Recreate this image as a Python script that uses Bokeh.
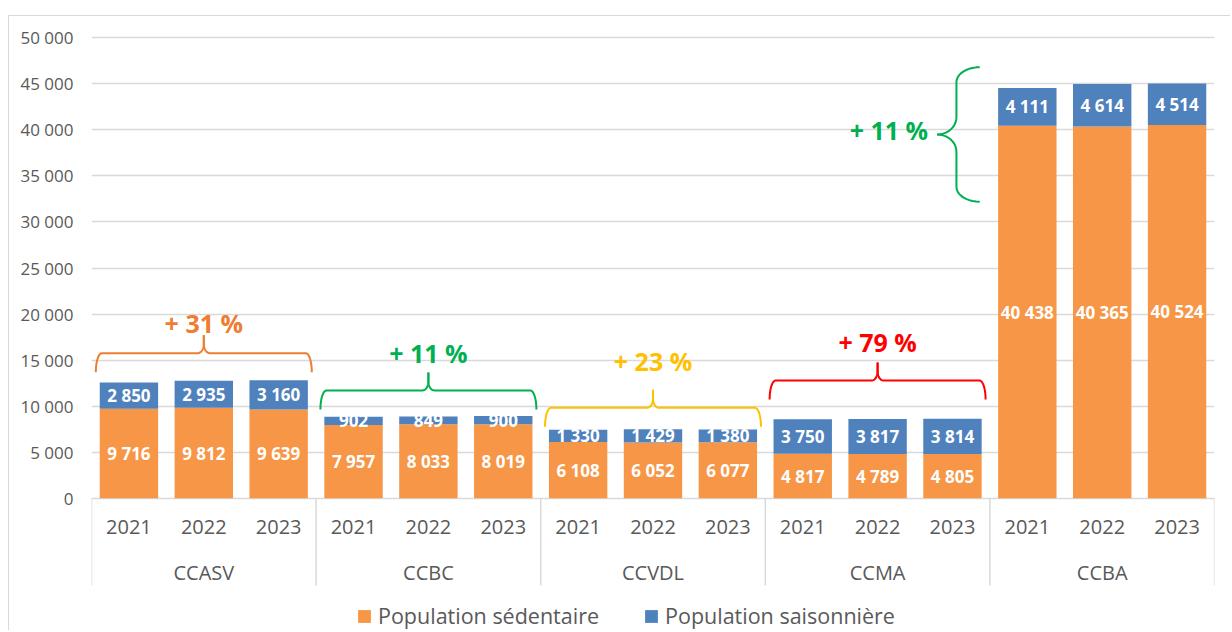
import math
from bokeh.plotting import figure
from bokeh.models import (ColumnDataSource, FactorRange, Range1d, FixedTicker,
                          CustomJSTickFormatter, Legend, LegendItem)
from bokeh.core.properties import value
from bokeh.embed import file_html
from bokeh.resources import INLINE

# ---------------- data ----------------
groups = ["CCASV", "CCBC", "CCVDL", "CCMA", "CCBA"]
years = ["2021", "2022", "2023"]
sedentaire = [9716, 9812, 9639,
              7957, 8033, 8019,
              6108, 6052, 6077,
              4817, 4789, 4805,
              40438, 40365, 40524]
saisonniere = [2850, 2935, 3160,
               902, 849, 900,
               1330, 1429, 1380,
               3750, 3817, 3814,
               4111, 4614, 4514]
series_names = ["Population sédentaire", "Population saisonnière"]
growth_labels = ["+ 31 %", "+ 11 %", "+ 23 %", "+ 79 %", "+ 11 %"]
y_ticks = [0, 5000, 10000, 15000, 20000, 25000, 30000, 35000, 40000, 45000, 50000]

# ---------------- annotation placement (data units) ----------------
brace_line_y = [15750, 11700, 9820, 12780]          # horizontal braces (first 4 groups)
growth_text_y = [19080, 15820, 14950, 17000, 40040]
ccba_brace_tip_y = 39500

# ---------------- styles ----------------
C_SED = "#F79646"
C_SAI = "#4F81BD"
growth_colors = ["#ED7D31", "#00B050", "#FFC000", "#FF0000", "#00B050"]
TXT = "#595959"
GRID = "#d9d9d9"
FONT = "Open Sans"

PX_X = 74.87      # pixels per factor unit
PX_Y = 0.009208   # pixels per data unit

factors = [(g, y) for g in groups for y in years]

def fmt(v):
    return f"{v:,}".replace(",", " ")

src = ColumnDataSource(dict(
    x=factors,
    sed=sedentaire,
    sai=saisonniere,
    sed_mid=[s / 2 for s in sedentaire],
    sai_mid=[s + a / 2 for s, a in zip(sedentaire, saisonniere)],
    sed_lbl=[fmt(v) for v in sedentaire],
    sai_lbl=[fmt(v) for v in saisonniere],
    year=[f[1] for f in factors],
))

x_range = FactorRange(factors=factors, factor_padding=0, group_padding=0,
                      subgroup_padding=0, range_padding=0)

p = figure(width=1230, height=630, x_range=x_range, y_range=Range1d(-14368, 50576),
           output_backend="svg", toolbar_location=None, x_axis_location=None,
           min_border_left=91, min_border_right=16, min_border_top=32, min_border_bottom=0)
p.outline_line_color = None
p.border_fill_color = None
p.styles = {"background": "linear-gradient(#d9d9d9,#d9d9d9) 8px 15px / 100% 1px no-repeat, "
                          "linear-gradient(#d9d9d9,#d9d9d9) 8px 15px / 1px 100% no-repeat"}

# grid / axis
p.xgrid.visible = False
p.ygrid.grid_line_color = GRID
p.ygrid.grid_line_width = 1.5
p.yaxis.ticker = FixedTicker(ticks=y_ticks)
p.yaxis.formatter = CustomJSTickFormatter(
    code="return tick.toFixed(0).replace(/\\B(?=(\\d{3})+(?!\\d))/g, ' ');")
p.yaxis.axis_line_color = None
p.yaxis.major_tick_line_color = None
p.yaxis.minor_tick_line_color = None
p.yaxis.major_tick_in = 0
p.yaxis.major_tick_out = 0
p.yaxis.major_label_standoff = 18
p.yaxis.major_label_text_font = FONT
p.yaxis.major_label_text_font_size = "17px"
p.yaxis.major_label_text_color = TXT

# bars
r_sed, r_sai = p.vbar_stack(["sed", "sai"], x="x", width=0.78, source=src,
                            color=[C_SED, C_SAI], line_color=None)

# bar labels
for ycol, tcol in (("sed_mid", "sed_lbl"), ("sai_mid", "sai_lbl")):
    p.text(x="x", y=ycol, text=tcol, source=src, text_color="white",
           text_font=value(FONT), text_font_style="bold", text_font_size="17px",
           text_align="center", text_baseline="middle")

# category axis drawn in frame
p.text(x="x", y=-3180, text="year", source=src, text_color=TXT,
       text_font=value(FONT), text_font_size="20px",
       text_align="center", text_baseline="middle")
p.text(x=[(g, years[1]) for g in groups], y=[-8070] * len(groups), text=groups,
       text_color=TXT, text_font=value(FONT), text_font_size="20px",
       text_align="center", text_baseline="middle")
sep_x = [[g, years[0], -0.5] for g in groups] + [[groups[-1], years[-1], 0.5]]
p.segment(x0=sep_x, y0=[0] * len(sep_x), x1=sep_x, y1=[-9480] * len(sep_x),
          line_color=GRID, line_width=1.5)

# ---------------- braces ----------------
def arc(cx, cy, rx, ry, t0, t1, n=10):
    pts = []
    for i in range(n + 1):
        t = math.radians(t0 + (t1 - t0) * i / n)
        pts.append((cx + rx * math.cos(t), cy + ry * math.sin(t)))
    return pts

def horiz_brace_half(W, sign):
    # pixel coords relative to (tip x, line y), y up
    pts = arc(-W + 6, -19, 6, 19, 180, 90)
    pts += arc(-6, 9, 6, 9, -90, 0)
    pts.append((0, 18))
    return [(sign * x, y) for x, y in pts]

for i, g in enumerate(groups[:4]):
    for sign in (-1, 1):
        pts = horiz_brace_half(108, sign)
        xs = [[g, years[1], x / PX_X] for x, _ in pts]
        ys = [brace_line_y[i] + y / PX_Y for _, y in pts]
        p.line(x=xs, y=ys, line_color=growth_colors[i], line_width=2)
    p.text(x=[(g, years[1])], y=[growth_text_y[i]], text=[growth_labels[i]],
           text_color=growth_colors[i], text_font=value(FONT), text_font_style="bold",
           text_font_size="25px", text_align="center", text_baseline="middle")

# vertical brace for last group
tip_off_px = -90.2
for sign in (1, -1):
    pts = arc(42.6, 52.3, 23.3, 15, 90, 180)
    pts.append((19.3, 17.3))
    pts += arc(0, 17.3, 19.3, 17.3, 0, -90)
    xs = [[groups[4], years[0], (tip_off_px + x) / PX_X] for x, _ in pts]
    ys = [ccba_brace_tip_y + sign * y / PX_Y for _, y in pts]
    p.line(x=xs, y=ys, line_color=growth_colors[4], line_width=2)
p.text(x=[[groups[4], years[0], (tip_off_px - 9) / PX_X]], y=[growth_text_y[4]],
       text=[growth_labels[4]], text_color=growth_colors[4], text_font=value(FONT),
       text_font_style="bold", text_font_size="25px", text_align="right",
       text_baseline="middle")

# legend
legend = Legend(items=[LegendItem(label=series_names[0], renderers=[r_sed]),
                       LegendItem(label=series_names[1], renderers=[r_sai])],
                orientation="horizontal", location=(265, 0), padding=0, margin=0,
                spacing=44, glyph_width=16, glyph_height=16, label_standoff=6,
                label_text_font=FONT, label_text_font_size="21.5px",
                label_text_color=TXT, border_line_color=None,
                background_fill_alpha=0)
p.add_layout(legend, "center")

open("out.html", "w").write(file_html(p, INLINE))
